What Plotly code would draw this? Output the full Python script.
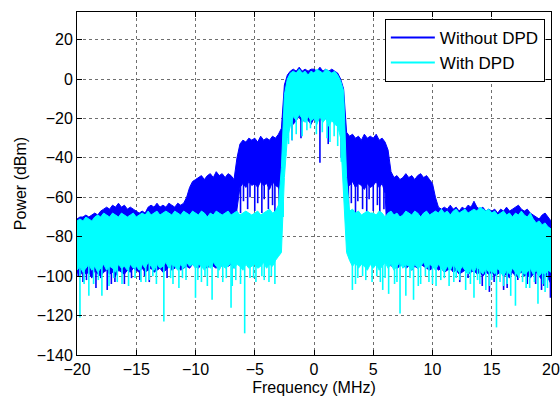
import numpy as np
import plotly.graph_objects as go

# Frequency grid of the spectrum analyser trace (MHz)
freq = np.round(np.arange(-20.0, 20.0001, 0.25), 2)

# Without DPD: peak and floor of the dense PSD trace (dBm)
peak_without = [
    -71, -70, -70, -69, -70, -69, -68, -69, -67, -66, -65, -66, -64, -65, -63, -65, -64, -66, -65, -66,
    -67, -68, -67, -68, -65, -64, -65, -63, -65, -64, -65, -63, -64, -65, -63, -64, -63, -60, -55, -52,
    -51, -50, -49, -51, -49, -48, -50, -47, -49, -48, -50, -48, -49, -51, -40, -33, -31, -32, -30, -31,
    -30, -32, -29, -31, -30, -31, -29, -30, -28, -25, -3, 2, 4, 5, 4, 6, 4, 5, 4, 5,
    5, 4, 6, 4, 5, 4, 5, 4, 3, 0, -5, -27, -29, -28, -30, -29, -31, -28, -30, -29,
    -30, -28, -31, -30, -32, -36, -47, -50, -49, -51, -50, -48, -50, -49, -51, -49, -48, -50, -49, -51,
    -53, -60, -65, -66, -65, -66, -64, -66, -65, -67, -65, -66, -64, -65, -62, -65, -66, -65, -67, -66,
    -67, -66, -68, -66, -67, -65, -67, -66, -65, -64, -66, -67, -66, -68, -69, -70, -71, -69, -68, -70,
    -72,
]
floor_without = [
    -98, -100, -97, -99, -98, -101, -97, -99, -100, -98, -97, -99, -98, -100, -97, -98, -99, -97, -98, -96,
    -97, -98, -96, -98, -97, -96, -98, -97, -96, -98, -97, -95, -97, -96, -95, -97, -96, -95, -96, -94,
    -95, -96, -94, -95, -96, -94, -95, -96, -94, -95, -93, -95, -94, -96, -66, -55, -53, -55, -52, -54,
    -53, -55, -52, -54, -53, -56, -52, -54, -55, -58, -26, -22, -20, -23, -21, -19, -22, -20, -21, -23,
    -20, -22, -19, -21, -20, -22, -19, -21, -23, -24, -35, -55, -54, -52, -55, -53, -54, -56, -53, -55,
    -54, -52, -55, -53, -58, -90, -95, -94, -96, -95, -94, -96, -95, -97, -95, -96, -94, -95, -96, -97,
    -96, -95, -97, -96, -98, -97, -96, -98, -97, -99, -98, -97, -99, -98, -97, -99, -98, -100, -98, -99,
    -98, -100, -99, -98, -100, -99, -101, -98, -100, -99, -98, -100, -99, -101, -99, -98, -100, -102, -99, -101,
    -104,
]

# With DPD: peak and floor of the dense PSD trace (dBm)
peak_with = [
    -72, -71, -72, -70, -71, -72, -70, -69, -70, -68, -69, -70, -68, -69, -70, -68, -69, -70, -69, -68,
    -70, -69, -68, -69, -67, -69, -68, -67, -69, -68, -67, -68, -69, -67, -68, -69, -67, -68, -69, -67,
    -68, -69, -67, -68, -70, -68, -69, -67, -68, -69, -68, -67, -69, -68, -67, -69, -68, -67, -68, -69,
    -68, -67, -69, -68, -67, -66, -68, -67, -64, -45, -8, 0, 3, 4, 3, 5, 3, 4, 2, 4,
    3, 5, 4, 3, 5, 4, 3, 4, 2, -1, -6, -50, -67, -66, -68, -67, -69, -68, -67, -68,
    -68, -69, -67, -68, -70, -68, -67, -69, -68, -70, -69, -67, -68, -69, -67, -68, -70, -68, -67, -69,
    -68, -67, -68, -66, -68, -67, -69, -67, -66, -68, -67, -66, -68, -67, -66, -67, -65, -66, -67, -66,
    -68, -67, -69, -68, -67, -69, -68, -70, -68, -69, -67, -69, -70, -68, -71, -73, -72, -74, -73, -75,
    -76,
]
floor_with = [
    -97, -95, -98, -96, -94, -97, -95, -98, -96, -94, -97, -95, -96, -98, -94, -96, -95, -97, -94, -96,
    -95, -97, -94, -96, -93, -95, -97, -94, -96, -95, -93, -96, -94, -95, -97, -94, -96, -93, -95, -94,
    -96, -94, -95, -97, -94, -96, -93, -95, -97, -94, -96, -95, -93, -96, -94, -95, -97, -94, -96, -95,
    -94, -96, -95, -93, -96, -94, -95, -92, -90, -88, -50, -30, -24, -19, -21, -18, -20, -22, -19, -21,
    -20, -23, -19, -22, -20, -24, -21, -23, -24, -30, -55, -88, -92, -95, -93, -96, -94, -95, -97, -94,
    -96, -94, -97, -95, -93, -96, -94, -97, -95, -93, -96, -94, -95, -97, -94, -96, -95, -93, -96, -94,
    -95, -97, -94, -96, -98, -95, -97, -94, -96, -98, -95, -97, -99, -96, -98, -95, -97, -99, -96, -98,
    -97, -99, -96, -98, -100, -97, -99, -96, -98, -100, -97, -99, -98, -96, -99, -97, -100, -98, -99, -97,
    -98,
]

# Isolated deep minima of each trace (MHz, dBm)
dip_without_f = [
    -19.9, -19.5, -19.2, -18.4, -18.0, -17.45, -17.1, -16.8, -16.0, -15.4, -14.7, -14.3, -13.9, -12.4,
    -6.2, -5.95, -5.6, -5.4, -5.0, -4.75, -4.4, -4.2, -3.85, -3.5, -3.3, -2.95,
    -1.85, -1.1, 0.5, 1.2, 2.3,
    2.9, 3.15, 3.5, 3.7, 4.1, 4.45, 4.65, 5.0, 5.35, 5.55, 5.9,
    12.3, 13.0, 14.2, 14.8, 15.2, 16.0, 16.3, 17.2, 18.0, 18.7, 19.2, 19.4, 19.95,
]
dip_without_db = [
    -100, -103, -102, -106, -101, -107, -104, -103, -104, -101, -102, -100, -103, -101,
    -68, -62, -66, -60, -67, -63, -68, -61, -66, -64, -69, -67,
    -31, -30, -42.5, -33, -40,
    -67, -63, -68, -62, -66, -69, -61, -67, -64, -68, -66,
    -103, -101, -105, -108, -103, -107, -106, -102, -104, -104, -107, -105, -111,
]
dip_with_f = [
    -19.75, -19.4, -19.0, -18.6, -18.2, -17.9, -17.3, -16.9, -16.6, -16.2, -15.65, -15.1, -14.6, -14.2,
    -13.9, -13.6, -13.3, -12.67, -12.1, -11.9, -11.4, -11.1, -10.8, -10.0, -9.8, -9.5, -9.2, -9.0, -8.6,
    -8.1, -7.7, -7.4, -7.0, -6.9, -6.6, -6.2, -5.85, -5.4, -5.1, -4.9, -4.4, -4.2, -3.8, -3.6, -3.3,
    -2.6, -2.4, -2.15, -1.85, -1.5, -1.0, -0.6, -0.3, 0.2, 0.7, 1.1, 1.35, 1.7, 2.0, 2.3,
    3.24, 3.5, 3.7, 4.1, 4.37, 4.9, 5.3, 5.6, 5.8, 6.0, 6.3, 6.8, 7.0, 7.26, 7.75,
    8.1, 8.4, 8.8, 9.0, 9.4, 9.7, 10.0, 10.3, 10.7, 11.0, 11.4, 11.8, 12.0, 12.3, 12.8,
    13.2, 13.5, 13.8, 14.0, 14.5, 14.8, 15.0, 15.4, 15.7, 16.0, 16.3, 16.6, 17.0, 17.3,
    17.6, 17.9, 18.2, 18.6, 18.9, 19.3, 19.5, 19.7,
]
dip_with_db = [
    -121, -104, -110, -104, -102, -110, -105, -101, -103, -104, -105, -101, -103, -103,
    -102, -100, -104, -123, -101, -104, -106, -101, -102, -111, -102, -103, -100, -105, -112,
    -101, -103, -101, -116, -105, -102, -104, -129, -101, -101, -103, -100, -102, -103, -100, -104,
    -70, -38, -33, -31, -28, -29, -26, -25, -28, -27, -30, -32, -29, -34, -42,
    -107, -104, -101, -100, -102, -103, -100, -103, -107, -101, -109, -104, -103, -119, -110,
    -101, -112, -105, -104, -100, -103, -104, -105, -102, -101, -105, -103, -101, -102, -107,
    -104, -111, -102, -104, -107, -105, -102, -126, -103, -105, -104, -110, -115, -101,
    -103, -106, -106, -103, -114, -104, -108, -106,
]

x_ticks = [-20, -15, -10, -5, 0, 5, 10, 15, 20]
y_ticks = [20, 0, -20, -40, -60, -80, -100, -120, -140]

series = [
    ("Without DPD", "#0000FF", peak_without, floor_without, dip_without_f, dip_without_db),
    ("With DPD", "#00FFFF", peak_with, floor_with, dip_with_f, dip_with_db),
]

FONT = "Liberation Sans, Arial, sans-serif"
fig = go.Figure()

for name, color, peak, floor, dip_f, dip_db in series:
    assert len(peak) == len(freq) and len(floor) == len(freq)
    assert len(dip_f) == len(dip_db)
    # dense part of the trace, between its peak and floor
    fig.add_trace(go.Scatter(
        x=np.concatenate([freq, freq[::-1]]),
        y=np.concatenate([np.array(peak, float), np.array(floor, float)[::-1]]),
        mode="lines", fill="toself", fillcolor=color,
        line=dict(color=color, width=1),
        showlegend=False, hoverinfo="skip",
    ))
    # deep minima as vertical strokes hanging from the floor
    start = np.interp(dip_f, freq, np.array(floor, float)) + 3
    xs, ys = [], []
    for f, s, d in zip(dip_f, start, dip_db):
        xs += [f, f, None]
        ys += [s, d, None]
    fig.add_trace(go.Scatter(
        x=xs, y=ys, mode="lines",
        line=dict(color=color, width=1.6),
        showlegend=False, hoverinfo="skip",
    ))

# legend entries drawn as plain line samples
for name, color, *_ in series:
    fig.add_trace(go.Scatter(
        x=[None], y=[None], mode="lines", name=name,
        line=dict(color=color, width=2),
    ))

axis_common = dict(
    showline=True, linecolor="black", linewidth=1, mirror="ticks",
    ticks="inside", ticklen=5, tickcolor="black", tickwidth=1,
    showgrid=True, gridcolor="#6f6f6f", gridwidth=1, griddash="dot",
    zeroline=False, automargin=False,
    tickfont=dict(family=FONT, size=16, color="black"),
)

fig.update_layout(
    width=560, height=403, autosize=False,
    margin=dict(l=77, r=9, t=12, b=48),
    paper_bgcolor="white", plot_bgcolor="white",
    font=dict(family=FONT, size=16, color="black"),
    xaxis=dict(range=[-20, 20], tickvals=x_ticks,
               title=dict(text="Frequency (MHz)", standoff=4,
                          font=dict(family=FONT, size=16)),
               **axis_common),
    yaxis=dict(range=[-140, 34], tickvals=y_ticks,
               title=dict(text="Power (dBm)", standoff=6,
                          font=dict(family=FONT, size=16)),
               **axis_common),
    legend=dict(x=0.987, y=0.98, xanchor="right", yanchor="top",
                bgcolor="white", bordercolor="black", borderwidth=1,
                font=dict(family=FONT, size=17, color="black"),
                tracegroupgap=0, itemwidth=44),
    showlegend=True,
)

fig.write_html("out.html")
